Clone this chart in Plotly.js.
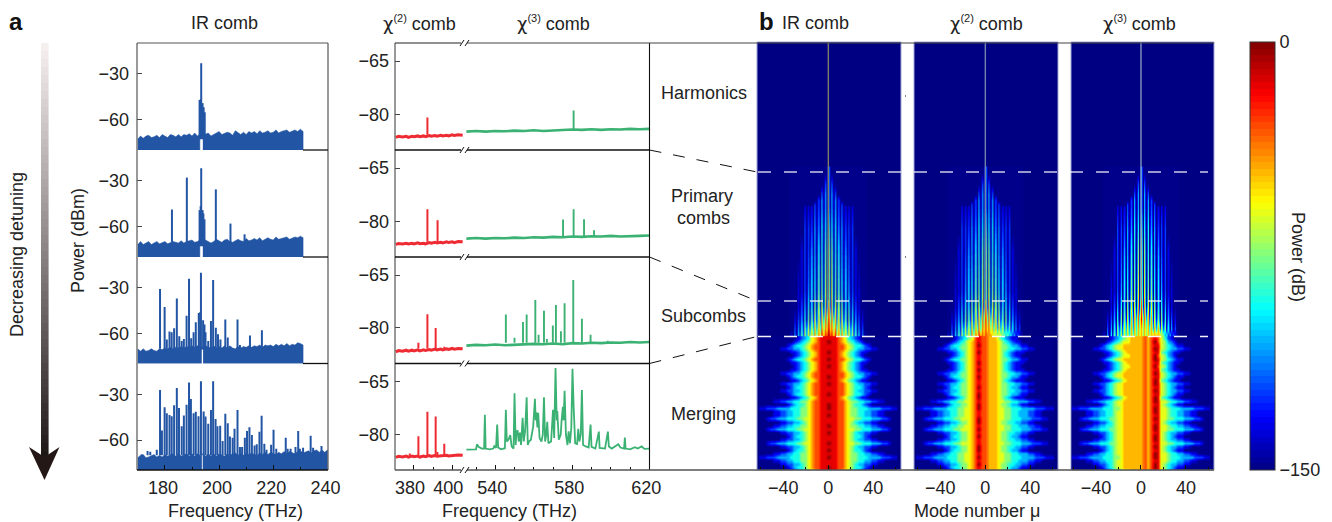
<!DOCTYPE html>
<html><head><meta charset="utf-8">
<script src="https://cdn.plot.ly/plotly-3.0.1.min.js"></script>
<style>html,body{margin:0;padding:0;background:#fff}#g{width:1332px;height:522px}</style>
</head><body><div id="g"></div>
<script>
// ---------- IR comb: noise floor readings (dBm) ----------
const irFreqLeft=[170,171,172,173,174,175,176,177,178,179,180,181,182,183,184,185,186,187,188,189,190,191,192,193];
const irFreqRight=[194,195,196,197,198,199,200,201,202,203,204,205,206,207,208,209,210,211,212,213,214,215,216,217,218,219,220,221,222,223,224,225,226,227,228,229,230,231,232,233,234,235,236,237,238,239,240];
const irFloorLeft1=[-72.5,-70.5,-72,-70.5,-70,-71.5,-71,-70,-71.5,-69.5,-70.5,-71.5,-69.5,-70,-71,-69.5,-71,-69.5,-70,-69,-70.5,-68.5,-70.5,-69];
const irFloorRight1=[-70,-69,-68.5,-70.5,-69.5,-68.5,-67.5,-69.5,-69,-68,-68.5,-70,-67,-68.5,-69.5,-68,-69.5,-67.5,-68.5,-67.5,-69,-67,-68.5,-68,-67,-68.5,-68,-66.5,-68.5,-67.5,-67,-66.5,-68,-67.5,-66.5,-67.5,-66,-67.5];
const irFloorLeft2=[-71.5,-69.5,-71.5,-70.5,-69.5,-71.5,-70.5,-69.5,-71,-70.5,-69.5,-71,-70,-69.5,-70,-70.5,-69,-70.5,-69.5,-69,-68.5,-70,-69.5,-68.5];
const irFloorRight2=[-70,-68.5,-69.5,-70.5,-69.5,-68,-69,-70,-68.5,-68,-69.5,-70,-69,-68,-69,-69.5,-67.5,-69,-68.5,-67.5,-68.5,-67,-69,-68,-67,-68,-68.5,-66.5,-68,-67.5,-67,-66.5,-68,-67,-66.5,-67,-66,-67];
const irFloorLeft3=[-70,-71.5,-70,-71.5,-71,-70,-71,-71.5,-70,-70.5,-69.5,-70,-69,-70,-69,-69.5,-68.5,-69.5,-68.5,-69,-68,-69,-68,-68.5];
const irFloorRight3=[-69,-68,-69,-69.5,-68,-69.5,-68.5,-69.5,-68,-69.5,-68,-69.5,-70,-68.5,-69.5,-68.5,-69,-68,-69,-68,-68.5,-67.5,-69,-67.5,-68,-67.5,-68.5,-67,-68,-67,-68,-66.5,-68,-67,-67.5,-66,-66.5,-67.5];
const irFloorLeft4=[-71.5,-70,-69.5,-71.5,-71,-70,-69.5,-71,-70,-71,-69.5,-70.5,-70,-69,-70.5,-69,-70.5,-70,-69,-70.5,-69,-70.5,-69,-70];
const irFloorRight4=[-69,-70.5,-69,-70.5,-69,-70.5,-69,-70,-70.5,-69,-70,-69,-68.5,-70,-68.5,-70,-68.5,-69.5,-68.5,-69.5,-70,-68.5,-69.5,-68,-69.5,-68,-69,-69.5,-68,-69,-67.5,-69,-67.5,-68.5,-69,-67.5,-67,-68.5,-67.5,-67,-68.5,-67,-66.5,-68,-66.5,-68,-66.5];
// pump notch: [left edge, right edge, top] in THz, THz, dBm
const irNotch=[[192.9,194.0,-72.6],[192.9,194.0,-72.6],[193.5,194.1,-70.5],[193.6,194.0,-69]];
// ---------- IR comb: spectral lines ----------
const irPeakF1=[192.8,193.2,193.4,193.9,194.3,194.7];
const irPeakP1=[-47,-46.5,-23,-49,-51.7,-55];
const irPeakF2=[182.6,188.1,192.8,193.2,193.4,193.9,194.2,194.6,198.8,204.2,209.4];
const irPeakP2=[-48.6,-27.8,-49,-46.4,-21.7,-49,-51.2,-55,-35.5,-57.8,-64.8];
const irPeakF3=[178.2,179.9,180.7,181.7,182.5,183.4,184.4,185.3,186.2,187,188,188.9,189.7,190.6,191.4,192.5,193,193.3,194.1,194.6,195,196,197,197.8,198.8,199.6,200.5,202.3,203.2,206.8,207.7,211.4,215.8];
const irPeakP3=[-30.7,-42.6,-63.9,-58.7,-59.1,-56.5,-37,-61.7,-64.8,-63.5,-48.3,-24.1,-63,-59.1,-52.6,-46.5,-46,-20.2,-51.3,-54,-59.1,-64.8,-51.7,-24.8,-56.1,-60.4,-63.9,-50.7,-62.6,-50.7,-67.4,-61.3,-57.8];
const irPeakF4=[171.4,173.6,174.6,177,178.2,178.9,179.9,180.7,181.7,182.5,183.4,184.4,185.2,186.2,187,188,188.9,189.6,190.6,191.4,192.4,193.3,194.3,195,196,197,197.8,198.7,199.4,200.4,201.3,202.3,203.2,204,205,205.7,206.8,207.7,208.5,209.5,210.3,211.2,212.1,213.1,213.9,214.9,215.7,216.7,217.5,219.2,220.1,221.1,224.6,225.3,226.4,228.2,229.2,229.8,231,233.8,234.7,237.8];
const irPeakP4=[-69.5,-67.2,-67.6,-66.3,-27.2,-53.7,-38.5,-42.4,-43.5,-44.3,-37.2,-25.9,-38.9,-50.9,-43.9,-36.9,-22.2,-33,-42.4,-41.5,-44.3,-21.5,-41.3,-44.5,-49.3,-40.2,-21.5,-46.1,-50.9,-50.6,-60.6,-42.8,-48.9,-57.6,-58.5,-52.6,-40.2,-64.5,-64.5,-58.5,-54.1,-51.5,-56.7,-63.5,-62.8,-54.5,-44.1,-62.4,-66.3,-63,-53.2,-65.6,-58.5,-65.6,-65.6,-64.5,-54.1,-65.6,-65,-57.2,-65,-63.9];
// ---------- chi(2) comb ----------
const redFloorF=[370.5,372,374,376,377,379,380,382,383,385,386,388,389,391,392,394,395,397,398,400,401,403,405.4];
const redFloor1=[-86.5,-86.2,-86.4,-86.2,-86.5,-86.2,-86.3,-86.1,-86.3,-86.1,-86.3,-86,-86.2,-86,-86.2,-85.9,-86.1,-85.9,-86.1,-85.8,-86,-85.8,-85.9];
const redFloor2=[-86.5,-86.3,-86.4,-86.2,-86.4,-86.2,-86.4,-86.1,-86.3,-86.2,-86.4,-86,-86.2,-85.9,-86.1,-85.9,-86.1,-85.8,-86,-85.8,-86,-85.7,-85.8];
const redFloor3=[-86.8,-86.4,-86.6,-86.3,-86.6,-86.3,-86.5,-86.2,-86.5,-86.2,-86.4,-86.1,-86.3,-86,-86.2,-86,-86.2,-85.9,-86.1,-85.8,-86,-85.8,-85.9];
const redFloor4=[-86.5,-86.2,-86.4,-86.1,-86.4,-86.1,-86.3,-86.1,-86.4,-86.1,-86.3,-86,-86.2,-86,-86.2,-86,-86.1,-85.9,-86.1,-85.9,-86,-85.8,-85.9];
const redPeakF1=[387]; const redPeakP1=[-80.9];
const redPeakF2=[387,392.3]; const redPeakP2=[-76.6,-79.7];
const redPeakF3=[382.3,387,391.3,395.8]; const redPeakP3=[-84.2,-76.1,-80,-85.3];
const redPeakF4=[377.8,382.3,387,391.3,392.2,395.8]; const redPeakP4=[-85.4,-80.5,-73.6,-74.9,-85,-82.6];
// ---------- chi(3) comb ----------
const greenFloorF=[525,530,535,540,545,550,555,560,565,570,575,580,585,590,595,600,605,610,615,620];
const greenFloor1=[-84.9,-84.7,-84.9,-84.7,-84.8,-84.6,-84.7,-84.5,-84.7,-84.5,-84.5,-84.3,-84.4,-84.2,-84.4,-84.2,-84.3,-84.1,-84.2,-84.1];
const greenFloor2=[-84.9,-84.7,-84.9,-84.7,-84.8,-84.6,-84.7,-84.5,-84.6,-84.4,-84.5,-84.3,-84.4,-84.2,-84.3,-84.1,-84.3,-84.1,-84.1,-84];
const greenFloor3=[-85,-84.8,-84.9,-84.7,-84.9,-84.7,-84.7,-84.5,-84.6,-84.4,-84.6,-84.3,-84.4,-84.2,-84.3,-84.1,-84.2,-84,-84.1,-84];
const greenPeakF1=[580.7]; const greenPeakP1=[-78.9];
const greenPeakF2=[575.2,580.7,586.1,591.3]; const greenPeakP2=[-79.5,-76.6,-79.4,-82.5];
const greenPeakF3=[545.5,550,554.4,556.3,560.8,562.5,565.3,566.8,569.9,571.5,574.1,576,580.5,585,589.5,598.4];
const greenPeakP3=[-76.2,-82.8,-78.3,-76.2,-72.1,-81.9,-75.1,-83.1,-79.3,-73.5,-80.9,-73,-66.4,-77.4,-81.9,-83.6];
const greenLineF4=[525,528,530,530.5,531.3,533,534.2,534.6,535,537,539,539.5,540.4,541,541.5,543,545,545.5,546,546.8,547.8,548.5,549.5,550,550.6,551,551.6,552.2,552.8,553.4,554.2,554.8,555.5,556.3,556.9,557.5,558.5,559.7,560.6,561,561.3,561.9,562.3,563,564,564.7,565.3,565.9,566.5,567,567.6,569,570,570.6,571.3,571.9,572.2,573,574,574.4,575.1,575.5,576,576.7,577.5,578.1,578.8,579.5,580.1,580.7,581.5,582.5,583.1,583.7,584.4,585,585.6,587,588.5,589.5,590,592,593.8,594.2,597,598.5,599,600.5,602,603.9,605,606.9,607.3,607.7,610,612.5,614,616,617.5,620];
const greenLineP4=[-84.3,-84.3,-84.2,-82.8,-83.5,-84,-84,-74.4,-84,-84.2,-84,-83.3,-83.8,-77.2,-83.7,-84.2,-83.9,-73,-82,-81.5,-80.2,-83.4,-84,-68.3,-83,-79.5,-78.8,-82,-79.5,-83,-75.3,-82,-79,-69.5,-83,-82,-81.5,-77.7,-69.9,-76,-73.7,-78,-73.9,-81,-82,-80,-69.5,-82,-80,-76.4,-82.5,-82,-73,-81,-61.2,-76,-73.4,-81.5,-80,-76.4,-72.2,-76,-67.6,-80,-83,-79.1,-82.5,-78,-61.4,-72,-82.5,-82.7,-78.4,-82,-80,-67.4,-83,-83.4,-83.7,-77.2,-83.5,-84,-79.2,-83.8,-84,-79.2,-83.4,-84,-83.5,-82.8,-83.7,-84,-80.9,-84,-84.2,-83.6,-84,-83.4,-84.1,-84];
// ---------- maps: power level digits (hex), power = digit*15-150 dB; "|" marks mode 0 ----------
const combModes=[-33,-31.5,-30,-28.5,-27,-25.5,-24,-22.5,-21,-19.5,-18,-16.5,-15,-13.5,-12,-10.5,-9,-7.5,-6,-4.5,-3,-1.5,0,1.5,3,4.5,6,7.5,9,10.5,12,13.5,15,16.5,18,19.5,21,22.5,24,25.5,27,28.5,30,31.5,33];
const combRowY=[172,183,193,200,204,206,230,250,290,305,318,328,337];
const combRowsShared=[
"|3","20|302","2030|30302","203030|3030302","20203030|303030202","10101020203030|303030202010101",
"20202030304040|504040303020202",
"1020203030404050|60504040303020201","101020304040505060|7060505040403020101",
"102030404050606071|8170606050404030201","10203040505161727384|948372716150504030201"];
const combRowsIr=["20304152626373748586|968584737362625140302","1030415263747585869798|a8979685857473625140301"];
const combRowsChi2=["20304152626373748486|868574737362525140302","1030415263647485879887|8878675757463625140301"];
const combRowsChi3=["20304152526363737475|757574737372625140302","1030415253636474757576|7575767878785625140301"];
const mergeModes=[-60,-57,-54,-51,-48,-45,-42,-39,-36,-33,-30,-27,-24,-21,-18,-15,-12,-9,-6,-3,0,3,6,9,12,15,18,21,24,27,30,33,36,39,42,45,48,51,54,57,60];
const mergeRowY=[338,341.5,345,348.5,352,355.5,359,362.5,366,369.5,373,376.5,380,383.5,387,390.5,394,397.5,401,404.5,408,411.5,415,418.5,422,425.5,429,432.5,436,439.5,443,446.5,450,453.5,457,460.5,464,467.5,471];
// widest mode reached by each row of the merging region
const mergeRowEdge=[27,30,36,42,33,30,36,33,30,33,42,36,33,42,36,42,36,33,48,36,60,48,48,54,42,48,54,42,36,42,54,42,36,48,60,48,42,36,30];
// level of the strongest map column in each row
const mergeCoreIr =[9,10,9,9,10,9,10,9,10,9,9,10,9,10,9,9,10,9,9,10,10,9,10,9,9,10,9,10,9,9,10,9,10,9,10,9,9,10,9];
const mergeCoreChi2=[9,9,10,9,10,9,9,10,9,10,9,10,9,9,10,9,10,10,9,10,10,9,9,10,10,9,10,9,10,9,9,10,10,9,10,9,10,9,9];
const mergeCoreChi3=[9,10,9,10,9,10,10,9,10,9,10,9,10,10,9,10,9,10,10,9,10,10,9,10,9,10,10,9,10,10,9,10,9,10,10,9,10,10,9];
// profile tables, by row edge: outer edge..mode -3 | mode 0..outer edge
const leftIr ={27:"123467899",30:"1234567899",33:"11234567899",36:"123445678899",42:"11223345678899",48:"1122334455678899",54:"122333444556678899",60:"11222333344455678899"};
const rightIr={27:"9998764321",30:"99987654321",33:"999876543211",36:"9998876544321",42:"999887654332211",48:"99988765544332211",54:"9998876655444333221",60:"999887655444333322211"};
const leftChi2 ={27:"123456898",30:"1234567898",33:"11234567898",36:"123445567898",42:"11223345567898",48:"1122334455667898",54:"122333444556667898",60:"11222333344455667898"};
const rightChi2={27:"8777543211",30:"87776543211",33:"877765432111",36:"8777655433211",42:"877765544332211",48:"87776655443332211",54:"8777665544433322211",60:"877766554443333222111"};
const leftChi3 ={27:"123456777",30:"1234566777",33:"11234567777",36:"123456677777",42:"11223456677777",48:"1122334456677777",54:"122333444556677777",60:"11222333344455677777"};
const rightChi3={27:"7878986421",30:"78789865321",33:"787899543211",36:"7878996543211",42:"787899654332211",48:"78789966544332211",54:"7878996655444333221",60:"787899665444333322211"};
// ---------- tick values ----------
const irTicks=[180,200,220,240], irMinor=[190,210,230];
const redTicks=[380,400], redMinor=[370,390];
const greenTicks=[540,580,620], greenMinor=[530,550,560,570,590,600,610];
const modeTicks=[-40,0,40], modeMinor=[-60,-20,20,60];
const colorbarTicks=[-135,-120,-105,-90,-75,-60,-45,-30,-15];

// 64-step jet colour scale
const jetAnchors=[[0,[0,0,131]],[0.125,[0,0,255]],[0.375,[0,255,255]],[0.625,[255,255,0]],[0.875,[255,0,0]],[1,[128,0,0]]];
function jetAt(t){for(let i=1;i<jetAnchors.length;i++){if(t<=jetAnchors[i][0]){const a=jetAnchors[i-1],b=jetAnchors[i],u=(t-a[0])/(b[0]-a[0]);return 'rgb('+a[1].map((c,k)=>Math.round(c+(b[1][k]-c)*u)).join(',')+')'}}return 'rgb(128,0,0)'}
const jetStops=[];for(let i=0;i<64;i++){const c=jetAt((i+0.5)/64);jetStops.push([i/64,c],[(i+1)/64,c])}

// ---------- helpers ----------
const W=1332,H=522;
const fx=x=>x/W, fy=y=>1-y/H;
const FONT='"Liberation Sans", Arial, sans-serif', INK='#222';
const panelY=[[43,150],[150,257],[257,363.5],[363.5,470]];
const layout={width:W,height:H,margin:{l:0,r:0,t:0,b:0},paper_bgcolor:'#fff',plot_bgcolor:'rgba(0,0,0,0)',showlegend:false,hovermode:false,font:{family:FONT,size:18,color:INK},shapes:[],annotations:[]};
const traces=[];
let axN=0;
function addAxes(xr,yr,dx,dy,xo,yo){
  axN++;const s=axN===1?'':String(axN);
  layout['xaxis'+s]=Object.assign({domain:[fx(dx[0]),fx(dx[1])],range:xr,anchor:'y'+s,showgrid:false,zeroline:false,showline:false,ticks:'',showticklabels:false,fixedrange:true},xo||{});
  layout['yaxis'+s]=Object.assign({domain:[fy(dy[1]),fy(dy[0])],range:yr,anchor:'x'+s,showgrid:false,zeroline:false,showline:false,ticks:'',showticklabels:false,fixedrange:true},yo||{});
  return {x:'x'+s,y:'y'+s};
}
function spikes(fs,ps,base){const x=[],y=[];fs.forEach((f,i)=>{x.push(f,f,null);y.push(base,ps[i],null)});return {x,y}}
function line(x0,y0,x1,y1,color,width,dash){layout.shapes.push({type:'line',xref:'paper',yref:'paper',x0:fx(x0),y0:fy(y0),x1:fx(x1),y1:fy(y1),line:{color,width:width||1,dash:dash||'solid'}})}
function note(text,x,y,o){layout.annotations.push(Object.assign({text,xref:'paper',yref:'paper',x:fx(x),y:fy(y),xanchor:'center',yanchor:'middle',showarrow:false,font:{family:FONT,size:18,color:INK}},o||{}))}
const bottomAxis=(ticks,minor,shift)=>({tickmode:'array',tickvals:ticks,ticks:'inside',ticklen:5,tickcolor:'#111',tickwidth:1,showticklabels:true,tickfont:{size:18,color:INK,family:FONT},ticklabelshift:shift,ticklabelstandoff:5,minor:{tickmode:'array',tickvals:minor,ticks:'inside',ticklen:3,tickcolor:'#111',tickwidth:1}});
const leftAxis=(ticks,off)=>({tickmode:'array',tickvals:ticks,ticks:'inside',ticklen:5,tickcolor:'#444',tickwidth:1,showticklabels:true,tickfont:{size:18,color:INK,family:FONT},ticklabelstandoff:off});

// ---------- panel a: IR ----------
const BLUE='#2255a4', IR_BOTTOM=-79.6;
const irSets=[[irFloorLeft1,irFloorRight1,irPeakF1,irPeakP1],[irFloorLeft2,irFloorRight2,irPeakF2,irPeakP2],[irFloorLeft3,irFloorRight3,irPeakF3,irPeakP3],[irFloorLeft4,irFloorRight4,irPeakF4,irPeakP4]];
irSets.forEach((s,i)=>{
  const a=addAxes([169.7,240.2],[IR_BOTTOM,-9.8],[137,328],panelY[i],i===3?bottomAxis(irTicks,irMinor,-2):{},leftAxis([-30,-60],7));
  const [gl,gr,nt]=irNotch[i];
  const n=s[1].length, fr=irFreqRight.slice(0,n);
  const lastL=s[0][s[0].length-1], firstR=s[1][0];
  const px=[...irFreqLeft,gl,gl,irFreqLeft[0],null, gr,...fr,fr[n-1],gr,null, gl,gl,gr,gr];
  const py=[...s[0],lastL,IR_BOTTOM,IR_BOTTOM,null, firstR,...s[1],IR_BOTTOM,IR_BOTTOM,null, nt,lastL,firstR,nt];
  traces.push({type:'scatter',mode:'lines',x:px,y:py,fill:'toself',fillcolor:BLUE,line:{color:BLUE,width:0.5},hoverinfo:'skip',xaxis:a.x,yaxis:a.y});
  const sp=spikes(s[2],s[3],-70);
  traces.push({type:'scatter',mode:'lines',x:sp.x,y:sp.y,line:{color:BLUE,width:2},hoverinfo:'skip',xaxis:a.x,yaxis:a.y});
});

// ---------- panel a: chi2 / chi3 ----------
const RED='#ee2b33', GREEN='#3bb273', MID_Y=[-90.07,-59.9];
const redSets=[[redFloor1,redPeakF1,redPeakP1],[redFloor2,redPeakF2,redPeakP2],[redFloor3,redPeakF3,redPeakP3],[redFloor4,redPeakF4,redPeakP4]];
const greenSets=[[greenFloor1,greenPeakF1,greenPeakP1],[greenFloor2,greenPeakF2,greenPeakP2],[greenFloor3,greenPeakF3,greenPeakP3]];
redSets.forEach((s,i)=>{
  const a=addAxes([370.1,406.6],MID_Y,[395,465],panelY[i],i===3?bottomAxis(redTicks,redMinor,-4):{},leftAxis([-65,-80],5));
  traces.push({type:'scatter',mode:'lines',x:redFloorF,y:s[0],line:{color:RED,width:3},hoverinfo:'skip',xaxis:a.x,yaxis:a.y});
  const sp=spikes(s[1],s[2],-85.8);
  traces.push({type:'scatter',mode:'lines',x:sp.x,y:sp.y,line:{color:RED,width:2},hoverinfo:'skip',xaxis:a.x,yaxis:a.y});
  const b=addAxes([524.8,620],MID_Y,[466,649.3],panelY[i],i===3?bottomAxis(greenTicks,greenMinor,-3):{},{});
  if(i<3){
    const g=greenSets[i];
    traces.push({type:'scatter',mode:'lines',x:greenFloorF,y:g[0],line:{color:GREEN,width:2.6},hoverinfo:'skip',xaxis:b.x,yaxis:b.y});
    const gs=spikes(g[1],g[2],-84.2);
    traces.push({type:'scatter',mode:'lines',x:gs.x,y:gs.y,line:{color:GREEN,width:1.9},hoverinfo:'skip',xaxis:b.x,yaxis:b.y});
  } else {
    traces.push({type:'scatter',mode:'lines',x:greenLineF4,y:greenLineP4,line:{color:GREEN,width:1.8},hoverinfo:'skip',xaxis:b.x,yaxis:b.y});
  }
});

// ---------- panel b: maps ----------
function rowPower(s,nl,nr){const p=s.split('|');const c=p[0].padStart(nl,'0')+p[1].padEnd(nr,'0');return c.slice(0,nl+nr).split('').map(d=>parseInt(d,16)*15-150)}
const heatPanels=[
 {dom:[757,901],range:[-63.4,64.6],comb:combRowsIr,L:leftIr,R:rightIr,core:mergeCoreIr,coreMode:0,center:'rgb(125,125,105)'},
 {dom:[914,1058],range:[-63.4,64.6],comb:combRowsChi2,L:leftChi2,R:rightChi2,core:mergeCoreChi2,coreMode:-6,center:'rgb(110,130,170)'},
 {dom:[1071,1214],range:[-62.2,64.9],comb:combRowsChi3,L:leftChi3,R:rightChi3,core:mergeCoreChi3,coreMode:12,center:'rgb(130,150,190)'}];
heatPanels.forEach((h,i)=>{
  const a=addAxes(h.range,[470,42],h.dom,[42,470],bottomAxis(modeTicks,modeMinor,0),{});
  layout.shapes.push({type:'rect',xref:'paper',yref:'paper',layer:'below',x0:fx(h.dom[0]),x1:fx(h.dom[1]),y0:fy(470),y1:fy(42),fillcolor:'rgb(0,0,131)',line:{color:'rgb(160,165,210)',width:1}});
  const zComb=[...combRowsShared,...h.comb].map(r=>rowPower(r,22,23));
  const coreIdx=mergeModes.indexOf(h.coreMode);
  const zMerge=mergeRowEdge.map((e,r)=>{const z=rowPower(h.L[e]+'|'+h.R[e],20,21);z[coreIdx]=h.core[r]*15-150;return z});
  const common={type:'heatmap',zmin:-150,zmax:0,colorscale:jetStops,zsmooth:'best',hoverinfo:'skip',xaxis:a.x,yaxis:a.y,showscale:false};
  traces.push(Object.assign({},common,{x:combModes,y:combRowY,z:zComb}));
  traces.push(Object.assign({},common,{x:mergeModes,y:mergeRowY,z:zMerge},i===0?{showscale:true,colorbar:{x:fx(1250),xanchor:'left',xref:'paper',y:fy(470),yanchor:'bottom',yref:'paper',len:428/H,lenmode:'fraction',thickness:25,thicknessmode:'pixels',xpad:0,ypad:0,outlinecolor:'#333',outlinewidth:1,tickmode:'array',tickvals:[-150,0],ticks:'',tickfont:{size:18,color:INK,family:FONT}}}:{}));
  traces.push({type:'scatter',mode:'lines',x:[0,0],y:[42,300],line:{color:h.center,width:1.4},hoverinfo:'skip',xaxis:a.x,yaxis:a.y});
});

// ---------- frame lines ----------
const GRAY='#555';
line(137,43,137,470,GRAY,1.2); line(328,43,328,470,GRAY,1.2); line(137,43,328,43,GRAY,1.2); line(137,470,328,470,'#111',1.3);
[150,257,363.5].forEach(y=>line(303,y,328,y,'#111',1.3));
line(395,43,395,470,GRAY,1.2); line(649.5,43,649.5,470,'#111',1.1);
line(395,43,461,43,'#222',1.1); line(467,43,1214,43,'#444',1.1);
[150,257,363.5].forEach(y=>{line(395,y,461,y,'#111',1.3);line(467,y,649.5,y,'#111',1.3)});
line(395,470,461,470,GRAY,1.4); line(467,470,1214,470,GRAY,1.4);
[43,150,257,363.5,470].forEach(y=>{line(460,y+3,464,y-3,'#111',1);line(465,y+3,469,y-3,'#111',1)});
// link lines
line(649.5,150,757,172,'#111',1,'12px,12px'); line(649.5,257,757,301,'#111',1,'12px,12px'); line(649.5,363.5,757,336.5,'#111',1,'12px,12px');
// transition markers
line(758,172,1208,172,'rgba(255,255,255,0.8)',1.4,'13px,13px'); line(758,301,1208,301,'rgba(255,255,255,0.8)',1.4,'13px,13px'); line(758,336.5,1208,336.5,'rgba(255,255,255,0.95)',1.4,'13px,13px');
line(905,96,906,96,'#000',1); line(905,257,906,257,'#000',1);
// colorbar ticks
colorbarTicks.forEach(v=>{const y=470-(v+150)/150*428;line(1250,y,1254,y,'#222',1)});
// decreasing-detuning arrow
for(let i=0;i<52;i++){const y0=43+i*8,g=Math.round(245-i*(245-30)/51);layout.shapes.push({type:'rect',xref:'paper',yref:'paper',x0:fx(41),x1:fx(48.6),y0:fy(y0),y1:fy(y0+8),fillcolor:`rgb(${g},${Math.max(g-5,25)},${Math.max(g-8,22)})`,line:{width:0}})}
layout.shapes.push({type:'path',xref:'paper',yref:'paper',path:`M ${fx(29)} ${fy(447)} L ${fx(44.5)} ${fy(457)} L ${fx(59.5)} ${fy(447)} L ${fx(44.5)} ${fy(480)} Z`,fillcolor:'#231815',line:{width:0}});

// ---------- text ----------
const chi=n=>`<span style="font-family:'DejaVu Sans'">χ</span><sup><span style="font-size:11px">(${n})</span></sup> comb`;
note('<b>a</b>',16,21,{font:{family:FONT,size:24,color:'#111'}});
note('<b>b</b>',766,21,{font:{family:FONT,size:24,color:'#111'}});
note('IR comb',224,23); note(chi(2),419,23); note(chi(3),553,23);
note('IR comb',815,23); note(chi(2),986,23); note(chi(3),1139,23);
note('Frequency (THz)',235,511); note('Frequency (THz)',509,511); note('Mode number μ',977,511);
note('Power (dBm)',78,241,{textangle:-90}); note('Decreasing detuning',17,255,{textangle:-90});
note('Power (dB)',1298,257,{textangle:90});
note('Harmonics',704,93); note('Primary',702,196); note('combs',703,218); note('Subcombs',703,316); note('Merging',703,414);

Plotly.newPlot('g',traces,layout,{displayModeBar:false,staticPlot:true});
</script></body></html>
